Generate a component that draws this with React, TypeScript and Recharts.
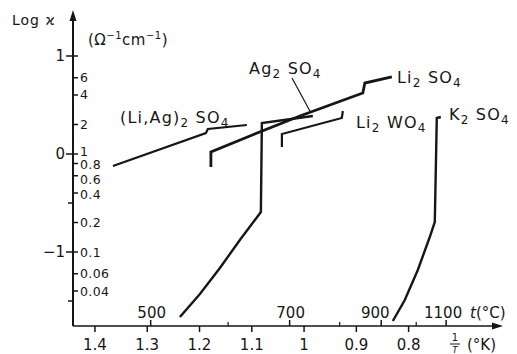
import React from 'react';
import { LineChart, Line, XAxis, YAxis } from 'recharts';

// x: 1/T (10^-3 K^-1), y: conductivity kappa (Ohm^-1 cm^-1)
const liAgInvT = [1.3656, 1.1878, 1.1839, 1.1094];
const liAgKappa = [0.754, 1.638, 1.799, 1.976];

const li2so4InvT = [1.1782, 1.1782, 1.1036, 1.008, 0.8876, 0.8837, 0.8321];
const li2so4Kappa = [0.737, 1.048, 1.527, 2.442, 4.193, 5.3, 6.11];

const ag2so4InvT = [1.2375, 1.1992, 1.161, 1.1228, 1.0826, 1.0807, 0.9832];
const ag2so4Kappa = [0.0217, 0.0373, 0.0687, 0.1326, 0.256, 2.072, 2.442];

const li2wo4InvT = [1.0424, 1.0424, 0.9277, 0.9258];
const li2wo4Kappa = [1.179, 1.6, 2.33, 2.746];

const k2so4InvT = [0.8302, 0.8073, 0.7824, 0.7595, 0.7499, 0.7461, 0.7384];
const k2so4Kappa = [0.01977, 0.0324, 0.0655, 0.1422, 0.2024, 2.33, 2.385];

// axis ticks
const invTTicks = [1.4, 1.3, 1.2, 1.1, 1.0, 0.9, 0.8];
const invTLabels = ['1.4', '1.3', '1.2', '1.1', '1', '0.9', '0.8'];
const tempMajor = [500, 700, 900, 1100];
const tempMinor = [600, 800, 1000];
const kappaTicks = [0.04, 0.06, 0.1, 0.2, 0.4, 0.6, 0.8, 1, 2, 4, 6];
const kappaLabels = ['0.04', '0.06', '0.1', '0.2', '0.4', '0.6', '0.8', '1', '2', '4', '6'];
const logTicks = [-1, 0, 1];
const logLabels = ['\u22121', '0', '1'];
const logMinor = [-1.5, -0.5];

const xDomain: [number, number] = [0.629, 1.442];
const yDomain: [number, number] = [0.01758, 26.2];

const FONT = "'DejaVu Sans', sans-serif";
const INK = '#161616';

const toPts = (xs: number[], ys: number[]) => xs.map((x, i) => ({ x, y: ys[i] }));
const series = [
  { name: '(Li,Ag)2SO4', data: toPts(liAgInvT, liAgKappa), w: 2.2 },
  { name: 'Li2SO4', data: toPts(li2so4InvT, li2so4Kappa), w: 2.8 },
  { name: 'Ag2SO4', data: toPts(ag2so4InvT, ag2so4Kappa), w: 2.4 },
  { name: 'Li2WO4', data: toPts(li2wo4InvT, li2wo4Kappa), w: 2.2 },
  { name: 'K2SO4', data: toPts(k2so4InvT, k2so4Kappa), w: 2.4 },
];

const tempPos = (t: number) => 1000 / (t + 273.15);
const xTicks = [...invTTicks, ...tempMajor.map(tempPos), ...tempMinor.map(tempPos)];
const yTicks = Array.from(
  new Set([...kappaTicks, ...logTicks.map((l) => Math.pow(10, l)), ...logMinor.map((l) => Math.pow(10, l))])
);

const near = (a: number, b: number) => Math.abs(a - b) / Math.max(Math.abs(b), 1e-9) < 1e-6;

// small label nudges where the hand-lettered reference crowds its tick labels
const labelNudge: Record<string, number> = { '1': -3, '0.8': 1.5, '0.6': 3.5, '0.4': 1.5 };

const XTick = (props: any) => {
  const { x, y, payload } = props;
  const v = payload.value;
  const i = invTTicks.findIndex((t) => near(v, t));
  if (i >= 0) {
    return (
      <g>
        <line x1={x} x2={x} y1={y} y2={y + 6} stroke={INK} strokeWidth={1.5} />
        <text x={x} y={y + 24} textAnchor="middle" fontFamily={FONT} fontSize={15} fill={INK}>
          {invTLabels[i]}
        </text>
      </g>
    );
  }
  const j = tempMajor.findIndex((t) => near(v, tempPos(t)));
  if (j >= 0) {
    const dx = tempMajor[j] === 900 ? -6 : tempMajor[j] === 1100 ? -3 : 1;
    return (
      <g>
        <line x1={x} x2={x} y1={y} y2={y - 6} stroke={INK} strokeWidth={1.5} />
        <text x={x + dx} y={y - 8} textAnchor="middle" fontFamily={FONT} fontSize={15} fill={INK}>
          {tempMajor[j]}
        </text>
      </g>
    );
  }
  return <line x1={x} x2={x} y1={y} y2={y - 4} stroke={INK} strokeWidth={1.2} />;
};

const YTick = (props: any) => {
  const { x, y, payload } = props;
  const v = payload.value;
  const ki = kappaTicks.findIndex((k) => near(v, k));
  const li = logTicks.findIndex((l) => near(v, Math.pow(10, l)));
  const mi = logMinor.findIndex((l) => near(v, Math.pow(10, l)));
  const lab = ki >= 0 ? kappaLabels[ki] : '';
  const nudge = labelNudge[lab] || 0;
  return (
    <g>
      {(ki >= 0 || li >= 0) && <line x1={x} x2={x + 5} y1={y} y2={y} stroke={INK} strokeWidth={1.5} />}
      {ki >= 0 && (
        <text x={x + 7} y={y + nudge} dy="0.36em" fontFamily={FONT} fontSize={12.5} fill={INK} letterSpacing={0.4}>
          {lab}
        </text>
      )}
      {li >= 0 && (
        <>
          <line x1={x - 7} x2={x} y1={y} y2={y} stroke={INK} strokeWidth={1.5} />
          <text x={x - 8} y={y} dy="0.36em" textAnchor="end" fontFamily={FONT} fontSize={15} fill={INK}>
            {logLabels[li]}
          </text>
        </>
      )}
      {mi >= 0 && <line x1={x - 5} x2={x} y1={y} y2={y} stroke={INK} strokeWidth={1.5} />}
    </g>
  );
};

const Sub = ({ children }: { children: React.ReactNode }) => (
  <tspan fontSize={12} dy={4}>
    {children}
  </tspan>
);
const Up = ({ children }: { children: React.ReactNode }) => (
  <tspan fontSize={10} dy={-6}>
    {children}
  </tspan>
);

const labelStyle = { fontFamily: FONT, fontSize: 16, fill: INK, letterSpacing: 1.2 } as const;

const Overlay = () => (
  <svg
    width={517}
    height={354}
    style={{ position: 'absolute', left: 0, top: 0, pointerEvents: 'none' }}
  >
    {/* axis arrows */}
    <polygon points="73,10 69.5,21 76.5,21" fill={INK} />
    <polygon points="503,326 492,322.5 492,329.5" fill={INK} />
    {/* axis titles */}
    <text x={12} y={25} fontFamily={FONT} fontSize={14} fill={INK} letterSpacing={1}>
      Log ϰ
    </text>
    <text x={88} y={45} fontFamily={FONT} fontSize={15} fill={INK} letterSpacing={0.5}>
      (Ω<Up>−1</Up>
      <tspan dy={6}>cm</tspan>
      <Up>−1</Up>
      <tspan dy={6}>)</tspan>
    </text>
    <text x={470} y={318} fontFamily={FONT} fontSize={15} fill={INK}>
      <tspan fontStyle="italic">t</tspan>(°C)
    </text>
    <text x={455} y={341} textAnchor="middle" fontFamily={FONT} fontSize={10} fill={INK}>
      1
    </text>
    <line x1={450} x2={460} y1={344} y2={344} stroke={INK} strokeWidth={1} />
    <text x={455} y={353} textAnchor="middle" fontFamily={FONT} fontSize={9} fill={INK} fontStyle="italic">
      T
    </text>
    <text x={467} y={350} fontFamily={FONT} fontSize={15} fill={INK}>
      (°K)
    </text>
    {/* series labels */}
    <text x={120} y={123} {...labelStyle}>
      (Li,Ag)<Sub>2</Sub>
      <tspan dy={-4}> SO</tspan>
      <Sub>4</Sub>
    </text>
    <text x={249} y={74} {...labelStyle}>
      Ag<Sub>2</Sub>
      <tspan dy={-4}> SO</tspan>
      <Sub>4</Sub>
    </text>
    <line x1={292} x2={311} y1={78} y2={113} stroke={INK} strokeWidth={1.2} />
    <text x={397} y={83} {...labelStyle}>
      Li<Sub>2</Sub>
      <tspan dy={-4}> SO</tspan>
      <Sub>4</Sub>
    </text>
    <text x={356} y={128} {...labelStyle}>
      Li<Sub>2</Sub>
      <tspan dy={-4}> WO</tspan>
      <Sub>4</Sub>
    </text>
    <text x={449} y={120} {...labelStyle}>
      K<Sub>2</Sub>
      <tspan dy={-4}> SO</tspan>
      <Sub>4</Sub>
    </text>
  </svg>
);

export default function App() {
  return (
    <div style={{ position: 'absolute', left: 0, top: 0, width: 517, height: 354, background: '#fff' }}>
      <LineChart width={517} height={354} margin={{ top: 15, right: 19, left: 0, bottom: 0 }}>
        <XAxis
          type="number"
          dataKey="x"
          domain={xDomain}
          reversed
          allowDataOverflow
          ticks={xTicks}
          interval={0}
          tick={<XTick />}
          tickLine={false}
          tickSize={0}
          tickMargin={0}
          height={28}
          axisLine={{ stroke: INK, strokeWidth: 1.5 }}
        />
        <YAxis
          type="number"
          dataKey="y"
          scale="log"
          domain={yDomain}
          allowDataOverflow
          ticks={yTicks}
          interval={0}
          tick={<YTick />}
          tickLine={false}
          tickSize={0}
          tickMargin={0}
          width={73}
          axisLine={{ stroke: INK, strokeWidth: 2 }}
        />
        {series.map((s) => (
          <Line
            key={s.name}
            name={s.name}
            data={s.data}
            dataKey="y"
            type="linear"
            stroke={INK}
            strokeWidth={s.w}
            dot={false}
            activeDot={false}
            isAnimationActive={false}
            strokeLinejoin="miter"
          />
        ))}
      </LineChart>
      <Overlay />
    </div>
  );
}
